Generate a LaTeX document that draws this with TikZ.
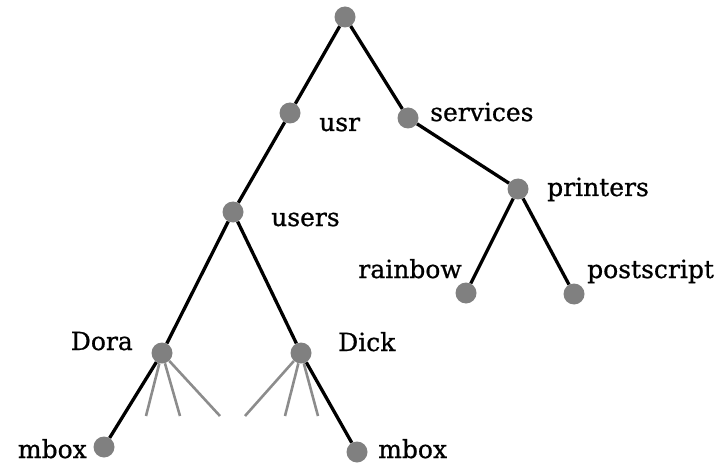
\documentclass[tikz,border=0pt]{standalone}
\usepackage{fontspec}
\setmainfont[FakeBold=0.8]{DejaVu Serif}
\definecolor{dotgray}{RGB}{128,128,128}
\definecolor{ghostgray}{RGB}{140,140,140}
\begin{document}
\begin{tikzpicture}[x=1pt,y=-1pt,
  dot/.style={circle,fill=dotgray,minimum size=21pt,inner sep=0pt},
  lbl/.style={font=\fontsize{25}{30}\selectfont,inner sep=0pt},
  edge/.style={line width=3.3pt,black},
  ghost/.style={line width=2.6pt,ghostgray}]
\useasboundingbox (0,0) rectangle (725,465);
% dots
\node[dot] (root) at (345,17) {};
\node[dot] (usr) at (290,113) {};
\node[dot] (services) at (408,118) {};
\node[dot] (printers) at (518,189) {};
\node[dot] (rainbow) at (466,293) {};
\node[dot] (postscript) at (574,294) {};
\node[dot] (users) at (233,212) {};
\node[dot] (dora) at (162,353) {};
\node[dot] (dick) at (301,353) {};
\node[dot] (mboxl) at (104,447) {};
\node[dot] (mboxr) at (357,452) {};
% labels
\node[lbl,anchor=base west] (tusr) at (319,131) {usr};
\node[lbl,anchor=base west] (tservices) at (430,121) {services};
\node[lbl,anchor=base west] (tprinters) at (547,196) {printers};
\node[lbl,anchor=base east] (trainbow) at (462,278) {rainbow};
\node[lbl,anchor=base west] (tpostscript) at (587,278) {postscript};
\node[lbl,anchor=base west] (tusers) at (271,226) {users};
\node[lbl,anchor=base east] (tdora) at (133,350) {Dora};
\node[lbl,anchor=base west] (tdick) at (338,351) {Dick};
\node[lbl,anchor=base east] (tmboxl) at (87,458) {mbox};
\node[lbl,anchor=base west] (tmboxr) at (378,458) {mbox};
% ghost ends
\coordinate (g1) at (146,416);
\coordinate (g2) at (180,416);
\coordinate (g3) at (220,416);
\coordinate (g4) at (245,416);
\coordinate (g5) at (285,416);
\coordinate (g6) at (318,416);
% edges
\draw[edge] (root) -- (usr);
\draw[edge] (root) -- (services);
\draw[edge] (usr) -- (users);
\draw[edge] (services) -- (printers);
\draw[edge] (printers) -- (rainbow);
\draw[edge] (printers) -- (postscript);
\draw[edge] (users) -- (dora);
\draw[edge] (users) -- (dick);
\draw[edge] (dora) -- (mboxl);
\draw[edge] (dick) -- (mboxr);
\foreach \g in {g1,g2,g3} \draw[ghost] (dora) -- (\g);
\foreach \g in {g4,g5,g6} \draw[ghost] (dick) -- (\g);
\end{tikzpicture}
\end{document}
